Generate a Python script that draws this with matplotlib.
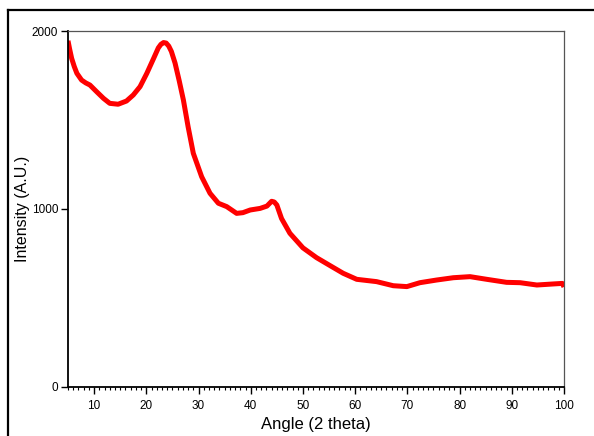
import matplotlib
matplotlib.use("Agg")
import matplotlib.pyplot as plt
from matplotlib.lines import Line2D
from matplotlib.ticker import MultipleLocator

plt.rcParams['font.family'] = ['Liberation Sans', 'DejaVu Sans']

# XRD pattern
angle = [5.0, 5.3, 5.7, 6.2, 6.7, 7.6, 8.4, 9.2, 10.5, 11.8, 13.0, 14.6, 16.2,
         17.5, 18.8, 20.1, 21.4, 22.3, 22.8, 23.3, 23.8, 24.3, 24.8, 25.5,
         26.3, 27.1, 28.0, 29.0, 30.6, 32.2, 33.8, 35.4, 36.5, 37.3, 38.5,
         39.9, 41.8, 43.1, 43.6, 44.0, 44.5, 45.0, 45.9, 47.5, 50.0, 52.6,
         55.2, 57.7, 60.3, 64.1, 67.3, 69.9, 72.4, 75.6, 78.8, 82.0, 85.2,
         89.0, 91.6, 94.8, 98.0, 99.7, 100.0]
intensity = [1945, 1900, 1846, 1800, 1762, 1724, 1708, 1696, 1658, 1621, 1593,
             1588, 1606, 1640, 1687, 1762, 1846, 1905, 1925, 1935, 1932, 1915,
             1885, 1820, 1720, 1612, 1462, 1312, 1180, 1087, 1031, 1012, 990,
             974, 978, 993, 1002, 1015, 1030, 1042, 1038, 1021, 945, 862, 780,
             725, 680, 637, 603, 590, 567, 562, 584, 599, 612, 618, 603, 586,
             584, 571, 577, 580, 560]

x_ticks = [10, 20, 30, 40, 50, 60, 70, 80, 90, 100]
y_ticks = [0, 1000, 2000]

fig = plt.figure(figsize=(5.94, 4.36), dpi=100)
ax = fig.add_axes([68 / 594, 49.5 / 436, 496 / 594, 355.5 / 436])

ax.plot(angle, intensity, color='#ff0000', linewidth=3.6,
        solid_joinstyle='round', solid_capstyle='butt')

ax.set_xlim(5, 100)
ax.set_ylim(0, 2000)
ax.set_xticks(x_ticks)
ax.set_yticks(y_ticks)
ax.xaxis.set_minor_locator(MultipleLocator(1))

ax.tick_params(axis='x', which='major', direction='out', length=5, width=1,
               labelsize=8.5, pad=5, top=False)
ax.tick_params(axis='x', which='minor', direction='out', length=2.5, width=0.8,
               top=False)
ax.tick_params(axis='y', which='major', direction='out', length=5, width=1,
               labelsize=8.5, pad=2, right=False)

for side in ['left', 'bottom']:
    ax.spines[side].set_color('black')
    ax.spines[side].set_linewidth(1.3)
for side in ['top', 'right']:
    ax.spines[side].set_color('#555555')
    ax.spines[side].set_linewidth(0.9)

ax.set_xlabel("Angle (2 theta)", fontsize=12, labelpad=3)
ax.set_ylabel("Intensity (A.U.)", fontsize=11.5, labelpad=1.5)

# outer frame lines of the original figure
fig.add_artist(Line2D([8 / 594, 8 / 594], [0, 1 - 10 / 436],
                      transform=fig.transFigure, color='black', linewidth=1.6))
fig.add_artist(Line2D([8 / 594, 1], [1 - 10 / 436, 1 - 10 / 436],
                      transform=fig.transFigure, color='black', linewidth=1.6))

plt.savefig("out.png", dpi=100)
